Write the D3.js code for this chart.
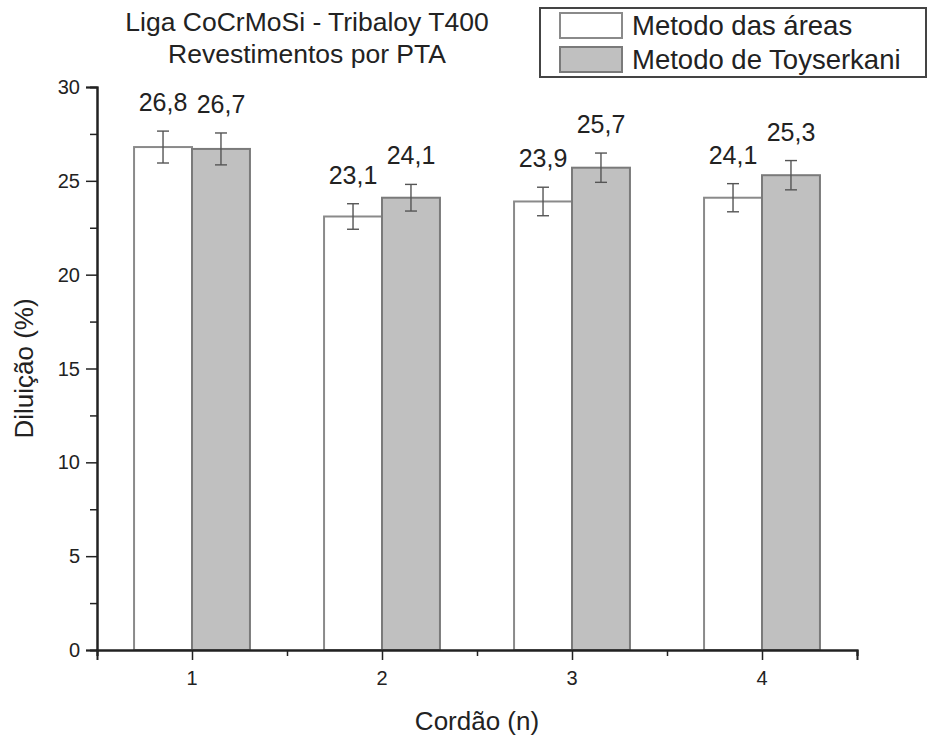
<!DOCTYPE html>
<html>
<head>
<meta charset="utf-8">
<script src="https://cdn.jsdelivr.net/npm/d3@7"></script>
<style>
  body { margin: 0; background: #fff; }
  text { font-family: "Liberation Sans", Arial, sans-serif; fill: #222; }
</style>
</head>
<body>
<div id="chart"></div>
<script>
// data
var cordoes = [1, 2, 3, 4];
var areas = [26.8, 23.1, 23.9, 24.1];
var areasErr = [0.85, 0.68, 0.76, 0.75];
var toyserkani = [26.7, 24.1, 25.7, 25.3];
var toyserkaniErr = [0.85, 0.71, 0.78, 0.78];
var seriesNames = ["Metodo das áreas", "Metodo de Toyserkani"];
var yTicks = [0, 5, 10, 15, 20, 25, 30];
var yMinor = [2.5, 7.5, 12.5, 17.5, 22.5, 27.5];
var xMinor = [0.5, 1.5, 2.5, 3.5, 4.5];

var margin = {top: 87, right: 72, bottom: 88, left: 97},
	width = 929 - margin.left - margin.right,
	height = 738 - margin.top - margin.bottom;

var x = d3.scaleLinear().domain([0.5, 4.5]).range([0, width]),
	y = d3.scaleLinear().domain([0, 30]).range([height, 0]);

var barW = x(1.305) - x(1);

var svg = d3.select("#chart")
	.append("svg")
	.attr("width", 929)
	.attr("height", 738);

var g = svg.append("g")
	.attr("transform", "translate(" + margin.left + "," + margin.top + ")");

var series = [
	{name: seriesNames[0], values: areas, err: areasErr, fill: "#ffffff", stroke: "#8a8a8a", off: -1},
	{name: seriesNames[1], values: toyserkani, err: toyserkaniErr, fill: "#c0c0c0", stroke: "#7a7a7a", off: 0}
];

// bars
series.forEach(function(s) {
	var rows = cordoes.map(function(c, i) { return {c: c, v: s.values[i], e: s.err[i]}; });

	g.selectAll(null)
		.data(rows)
		.enter().append("rect")
		.attr("x", function(d) { return x(d.c) + s.off * barW; })
		.attr("y", function(d) { return y(d.v); })
		.attr("width", barW)
		.attr("height", function(d) { return height - y(d.v); })
		.attr("fill", s.fill)
		.attr("stroke", s.stroke)
		.attr("stroke-width", 2);

	// error bars
	var eb = g.selectAll(null)
		.data(rows)
		.enter().append("g")
		.attr("transform", function(d) { return "translate(" + (x(d.c) + s.off * barW + barW / 2) + ",0)"; })
		.attr("stroke", "#555")
		.attr("stroke-width", 1.4);
	eb.append("line")
		.attr("y1", function(d) { return y(d.v + d.e); })
		.attr("y2", function(d) { return y(d.v - d.e); });
	eb.append("line")
		.attr("x1", -6).attr("x2", 6)
		.attr("y1", function(d) { return y(d.v + d.e); })
		.attr("y2", function(d) { return y(d.v + d.e); });
	eb.append("line")
		.attr("x1", -6).attr("x2", 6)
		.attr("y1", function(d) { return y(d.v - d.e); })
		.attr("y2", function(d) { return y(d.v - d.e); });

	// value labels
	g.selectAll(null)
		.data(rows)
		.enter().append("text")
		.attr("x", function(d) { return x(d.c) + s.off * barW + barW / 2; })
		.attr("y", function(d) { return y(d.v + d.e) - 20; })
		.attr("text-anchor", "middle")
		.style("font-size", "25px")
		.text(function(d) { return d3.format(".1f")(d.v).replace(".", ","); });
});

// axes: lines and ticks from d3, labels drawn as plain text
g.append("g")
	.call(d3.axisLeft(y).tickValues(yTicks).tickSize(11).tickFormat(""));
g.append("g")
	.call(d3.axisLeft(y).tickValues(yMinor).tickSize(7).tickFormat(""));
g.append("g")
	.attr("transform", "translate(0," + height + ")")
	.call(d3.axisBottom(x).tickValues(cordoes).tickSize(10).tickFormat(""));
g.append("g")
	.attr("transform", "translate(0," + height + ")")
	.call(d3.axisBottom(x).tickValues(xMinor).tickSize(6).tickFormat(""));

g.selectAll(".domain").attr("stroke", "#222").attr("stroke-width", 2);
g.selectAll(".tick line").attr("stroke", "#222").attr("stroke-width", 1.5);

g.selectAll(null)
	.data(yTicks)
	.enter().append("text")
	.attr("x", -17)
	.attr("y", function(d) { return y(d); })
	.attr("dy", "0.35em")
	.attr("text-anchor", "end")
	.style("font-size", "20px")
	.text(function(d) { return d; });

g.selectAll(null)
	.data(cordoes)
	.enter().append("text")
	.attr("x", function(d) { return x(d); })
	.attr("y", height + 35)
	.attr("text-anchor", "middle")
	.style("font-size", "20px")
	.text(function(d) { return d; });

// axis titles
svg.append("text")
	.attr("transform", "translate(33," + (margin.top + height / 2) + ") rotate(-90)")
	.attr("text-anchor", "middle")
	.style("font-size", "26px")
	.text("Diluição (%)");

svg.append("text")
	.attr("x", margin.left + width / 2)
	.attr("y", 730)
	.attr("text-anchor", "middle")
	.style("font-size", "26px")
	.text("Cordão (n)");

// title
var title = svg.append("text")
	.attr("text-anchor", "middle")
	.style("font-size", "26.5px");
title.append("tspan").attr("x", 307).attr("y", 31).text("Liga CoCrMoSi - Tribaloy T400");
title.append("tspan").attr("x", 307).attr("y", 63).text("Revestimentos por PTA");

// legend
var legend = svg.append("g").attr("transform", "translate(540,8)");
legend.append("rect")
	.attr("width", 386)
	.attr("height", 69)
	.attr("fill", "#fff")
	.attr("stroke", "#444")
	.attr("stroke-width", 2);

var li = legend.selectAll(".item")
	.data(series)
	.enter().append("g")
	.attr("class", "item")
	.attr("transform", function(d, i) { return "translate(20," + (5 + i * 34) + ")"; });
li.append("rect")
	.attr("width", 62)
	.attr("height", 25)
	.attr("fill", function(d) { return d.fill; })
	.attr("stroke", function(d) { return d.stroke; })
	.attr("stroke-width", 2);
li.append("text")
	.attr("x", 72)
	.attr("y", 22)
	.style("font-size", "27.5px")
	.text(function(d) { return d.name; });
</script>
</body>
</html>
